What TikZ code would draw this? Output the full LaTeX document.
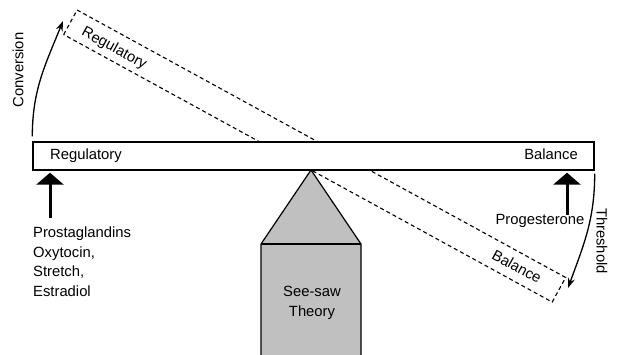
\documentclass[tikz,border=0pt]{standalone}
\usepackage{fontspec}
\setmainfont{Liberation Sans}
\usepackage{xcolor}
\usetikzlibrary{arrows.meta}
\usetikzlibrary{positioning}
\definecolor{basegray}{RGB}{192,192,192}

\begin{document}
\begin{tikzpicture}[x=1pt,y=1pt,
          lbl/.style={font=\fontsize{14.8}{19.5}\selectfont,inner sep=0pt},
          beam/.style={draw,line width=1.4pt,fill=white,minimum width=561pt,minimum height=28pt,inner sep=0pt},
          tilt/.style={draw,dash pattern=on 4pt off 3pt,line width=1.1pt},
          push/.style={line width=3pt,-{Triangle[length=12pt,width=27pt]}},
          turn/.style={line width=1.3pt,-{Stealth[length=10pt,width=7pt]}}]
          \useasboundingbox (0,0) rectangle (619,354);
          % tilted position of the beam
          \begin{scope}[rotate around={-28.7:(311,184)}]
            \draw[tilt] (29,184) rectangle (586,212);
            \node[lbl,anchor=base,transform shape] (tregl) at (80,192) {Regulatory};
            \node[lbl,anchor=base,transform shape] (tbal) at (538,193) {Balance};
          \end{scope}
          % fulcrum
          \coordinate (apex) at (311,184);
          \coordinate (bl) at (261,110);
          \coordinate (br) at (361,110);
          \fill[basegray] (apex) -- (br) -- (361,-2) -- (261,-2) -- (bl) -- cycle;
          \draw[line width=1.2pt] (261,-2) -- (bl) -- (apex) -- (br) -- (361,-2);
          \draw[line width=1.2pt] (bl) -- (br);
          \node[lbl,align=center] (theory) at (312,51) {See-saw\\Theory};
          % beam
          \node[beam] (beam) at (313.5,198) {};
          \node[lbl,anchor=base west] (regl) at (50,194) {Regulatory};
          \node[lbl,anchor=base east] (bal) at (578,194) {Balance};
          % forces
          \node[lbl,anchor=north west,align=left] (drivers) at (33,127) {Prostaglandins\\Oxytocin,\\Stretch,\\Estradiol};
          \node[lbl] (prog) at (540,133) {Progesterone};
          \coordinate (pl) at (50,136);
          \coordinate (pr) at (567,139);
          \draw[push,shorten >=2pt] (pl) -- (pl |- beam.south);
          \draw[push,shorten >=2pt] (pr) -- (pr |- beam.south);
          % rotation arrows
          \coordinate (convtip) at (63,333);
          \coordinate (thrtip) at (568,66);
          \draw[turn] ([yshift=5pt]beam.north west) to[out=90,in=248] (convtip);
          \draw[turn] ([yshift=-3pt]beam.south east) to[out=-90,in=70] (thrtip);
          \node[lbl,rotate=90] (conv) at (18,284) {Conversion};
          \node[lbl,rotate=-90] (thr) at (602,113) {Threshold};
        \end{tikzpicture}
\end{document}
